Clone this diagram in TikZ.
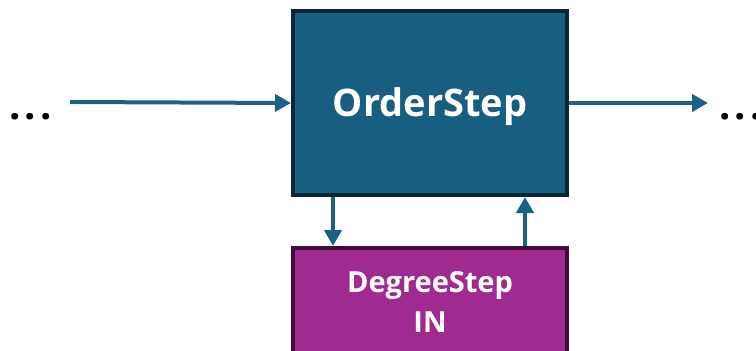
\documentclass[tikz,border=0pt]{standalone}
\usepackage{fontspec}
\setmainfont{Open Sans}
\usetikzlibrary{arrows.meta}
\definecolor{stepblue}{HTML}{175E80}
\definecolor{stepblueedge}{HTML}{0B2535}
\definecolor{flowblue}{HTML}{1A6185}
\definecolor{degmag}{HTML}{A02B90}
\definecolor{degedge}{HTML}{3E0B3B}
\begin{document}
\begin{tikzpicture}[x=1pt,y=-1pt,
  stepbox/.style={draw=stepblueedge, fill=stepblue, line width=4pt,
    minimum width=274pt, minimum height=184pt, inner sep=0pt,
    text height=27pt, text depth=0pt,
    text=white, font=\bfseries\fontsize{38}{44}\selectfont},
  degbox/.style={draw=degedge, fill=degmag, line width=4pt,
    minimum width=274pt, minimum height=108pt, inner sep=0pt, align=center,
    text=white, font=\bfseries\fontsize{29}{40}\selectfont},
  flow/.style={draw=flowblue, line width=4pt,
    -{Triangle[length=16pt,width=17pt]}},
  dots/.style={inner sep=0pt, font=\bfseries\fontsize{40}{40}\selectfont}]
  \useasboundingbox (0,0) rectangle (756,351);
  \begin{scope}
    \clip (0,0) rectangle (756,351);
    % connectors first so the boxes sit on top of their tails
    \coordinate (inL) at (70,102);
    \coordinate (outR) at (708,103);
    \node[stepbox] (order) at (430,103) {OrderStep};
    \node[degbox] (degree) at (430,302) {DegreeStep\\IN};
    \draw[flow] (inL) -- (order.west);
    \draw[flow] (order.east) -- (outR);
    \draw[flow] ([xshift=42pt]order.south west) -- ([xshift=42pt]degree.north west);
    \draw[flow] ([xshift=-44pt]degree.north east) -- ([xshift=-44pt]order.south east);
    \node[dots, anchor=base west] (dotsL) at (9,119) {.\kern4pt.\kern4pt.};
    \node[dots, anchor=base west] (dotsR) at (719,119) {.\kern4pt.\kern4pt.};
  \end{scope}
\end{tikzpicture}
\end{document}
